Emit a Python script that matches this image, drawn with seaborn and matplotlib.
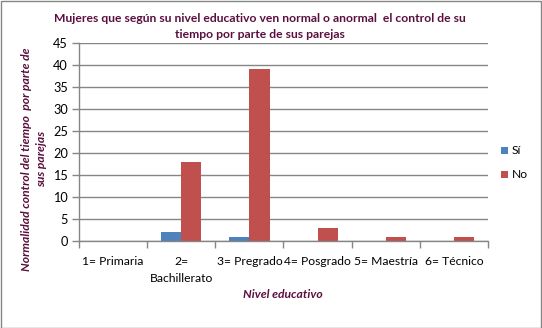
import matplotlib
matplotlib.use("Agg")
import matplotlib.pyplot as plt
import seaborn as sns
import pandas as pd
from matplotlib.patches import Rectangle

# Education levels and counts of answers per level
categorias = ["1= Primaria", "2=\nBachillerato", "3= Pregrado", "4= Posgrado", "5= Maestría", "6= Técnico"]
si_valores = [0, 2, 1, 0, 0, 0]
no_valores = [0, 18, 39, 3, 1, 1]
series = ["Sí", "No"]
y_ticks = [0, 5, 10, 15, 20, 25, 30, 35, 40, 45]

df = pd.DataFrame({
    "nivel": categorias * 2,
    "respuesta": [series[0]] * len(categorias) + [series[1]] * len(categorias),
    "valor": si_valores + no_valores,
})

sns.set_theme(style="white")
plt.rcParams["font.family"] = ["Lato", "DejaVu Sans"]

FS = 8.7
W, H = 542, 328
fig = plt.figure(figsize=(W / 100, H / 100), dpi=100)
fig.patch.set_facecolor("white")
fig.patches.append(Rectangle((0.5 / W, 0.5 / H), 1 - 1.5 / W, 1 - 1.5 / H, transform=fig.transFigure,
                             fill=False, edgecolor="#868686", linewidth=1.0))

ax = fig.add_axes([79 / W, 1 - 241 / H, (488 - 79) / W, (241 - 43) / H])
palette = {"Sí": "#4F81BD", "No": "#C0504D"}
sns.barplot(data=df, x="nivel", y="valor", hue="respuesta", palette=palette,
            width=0.59, saturation=1, ax=ax, legend=False, linewidth=0)

grid_c = "#868686"
ax.set_ylim(0, 45)
ax.set_yticks(y_ticks)
ax.set_yticklabels([str(v) for v in y_ticks])
ax.set_xlim(-0.5, len(categorias) - 0.5)
ax.set_xticks([i - 0.5 for i in range(len(categorias) + 1)])
ax.set_xticklabels([])
ax.set_xticks(range(len(categorias)), minor=True)
ax.set_xticklabels(categorias, minor=True, fontsize=FS, color="black", linespacing=1.6)
ax.tick_params(axis="x", which="minor", length=0, pad=11)
ax.tick_params(axis="x", which="major", length=5, width=1, color=grid_c, direction="out", bottom=True)
ax.tick_params(axis="y", length=5, width=1, color=grid_c, direction="out", left=True,
               labelsize=FS + 0.5, labelcolor="black", pad=3)
for t in ax.get_xticklabels(minor=True):
    t.set_verticalalignment("top")

ax.yaxis.grid(True, color=grid_c, linewidth=1)
ax.set_axisbelow(True)
for s in ["top", "right"]:
    ax.spines[s].set_visible(False)
for s in ["left", "bottom"]:
    ax.spines[s].set_color(grid_c)
    ax.spines[s].set_linewidth(1)
ax.set_xlabel("")
ax.set_ylabel("")

title_c = "#5A0F3E"
fig.text(260 / W, 1 - 18 / H, "Mujeres que según su nivel educativo ven normal o anormal  el control de su",
         ha="center", va="center", fontsize=FS, fontweight="bold", color=title_c)
fig.text(260 / W, 1 - 35 / H, "tiempo por parte de sus parejas",
         ha="center", va="center", fontsize=FS, fontweight="bold", color=title_c)
fig.text(27 / W, 1 - 159 / H, "Normalidad control del tiempo  por parte de",
         rotation=90, ha="center", va="center", fontsize=FS, fontweight="bold", style="italic", color=title_c)
fig.text(42 / W, 1 - 159 / H, "sus parejas",
         rotation=90, ha="center", va="center", fontsize=FS, fontweight="bold", style="italic", color=title_c)
fig.text(283 / W, 1 - 295 / H, "Nivel educativo",
         ha="center", va="center", fontsize=FS, fontweight="bold", style="italic", color=title_c)

# Legend
for lab, yy in zip(series, [150, 174]):
    fig.patches.append(Rectangle((501 / W, 1 - (yy + 3.5) / H), 7 / W, 7 / H, transform=fig.transFigure,
                                 facecolor=palette[lab], edgecolor="none"))
    fig.text(512 / W, 1 - yy / H, lab, ha="left", va="center", fontsize=FS, color="black")

fig.savefig("out.png", dpi=100)
